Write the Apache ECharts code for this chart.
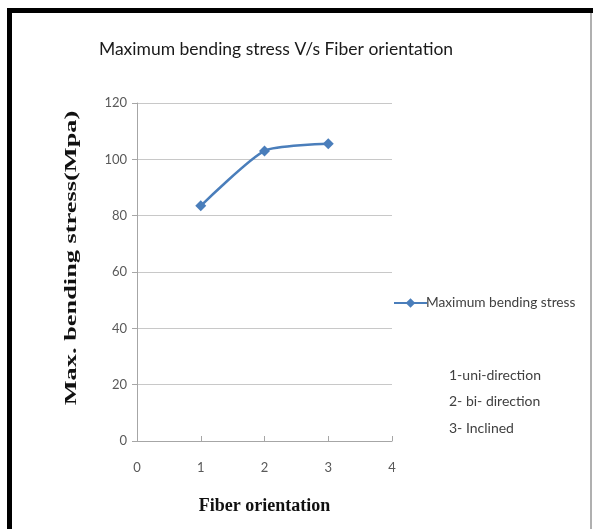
<!DOCTYPE html>
<html>
<head>
<meta charset="utf-8">
<script src="https://cdn.jsdelivr.net/npm/echarts@6/dist/echarts.min.js"></script>
<style>
  html, body { margin: 0; padding: 0; background: #fff; }
  #chart { width: 593px; height: 529px; }
</style>
</head>
<body>
<div id="chart"></div>
<script>
// 数据
var orientations = [1, 2, 3];
var maxStress = [83.5, 103, 105.5];
var xTicks = [0, 1, 2, 3, 4];
var legendName = 'Maximum bending stress';
var noteLines = ['1-uni-direction', '2- bi- direction', '3- Inclined'];

var lineColor = '#4a7ebb';
var tickColor = '#595959';

var myChart = echarts.init(document.getElementById('chart'));

var option = {
    backgroundColor: '#fff',
    animation: false,
    title: {
        text: 'Maximum bending stress V/s Fiber orientation',
        left: 271,
        top: 35,
        textAlign: 'center',
        textStyle: {
            fontFamily: 'Lato',
            fontSize: 17.5,
            fontWeight: 'normal',
            color: '#1a1a1a'
        }
    },
    legend: {
        data: [legendName],
        left: 388,
        top: 291,
        itemWidth: 33,
        itemHeight: 12,
        itemGap: 2,
        textStyle: {
            fontFamily: 'Lato',
            fontSize: 13.7,
            color: '#404040',
            padding: [0, 0, 0, -6]
        }
    },
    grid: {
        left: 137,
        right: 201,
        top: 103,
        bottom: 88
    },
    xAxis: {
        type: 'value',
        min: xTicks[0],
        max: xTicks[xTicks.length - 1],
        interval: 1,
        name: 'Fiber orientation',
        nameLocation: 'middle',
        nameGap: 56,
        nameTextStyle: {
            fontFamily: 'Liberation Serif',
            fontWeight: 'bold',
            fontSize: 18,
            color: '#111'
        },
        axisLine: { lineStyle: { color: '#a6a6a6', width: 1 } },
        axisTick: { show: true, inside: true, length: 5, lineStyle: { color: '#a6a6a6' } },
        axisLabel: {
            margin: 20,
            fontFamily: 'Lato',
            fontSize: 13,
            color: tickColor
        },
        splitLine: { show: false }
    },
    yAxis: {
        type: 'value',
        min: 0,
        max: 120,
        interval: 20,
        axisLine: { show: true, lineStyle: { color: '#a6a6a6', width: 1 } },
        axisTick: { show: true, length: 5, lineStyle: { color: '#a6a6a6' } },
        axisLabel: {
            margin: 10,
            fontFamily: 'Lato',
            fontSize: 13,
            color: tickColor
        },
        splitLine: { lineStyle: { color: '#c8c8c8', width: 1 } }
    },
    graphic: [
        // 外框（黑色粗线 + 右侧灰线）
        { type: 'rect', shape: { x: 7, y: 8, width: 590, height: 5 }, style: { fill: '#000' }, z: 100 },
        { type: 'rect', shape: { x: 7, y: 8, width: 5, height: 530 }, style: { fill: '#000' }, z: 100 },
        { type: 'rect', shape: { x: 590, y: 13, width: 2, height: 520 }, style: { fill: '#b0b0b0' }, z: 100 },
        // y轴名称（原图被纵向拉伸）
        {
            type: 'text',
            x: 72,
            y: 258,
            rotation: Math.PI / 2,
            scaleX: 1.55,
            style: {
                text: 'Max. bending stress(Mpa)',
                fontFamily: 'Liberation Serif',
                fontWeight: 'bold',
                fontSize: 17,
                fill: '#111',
                align: 'center',
                verticalAlign: 'middle'
            }
        },
        {
            type: 'text',
            left: 449,
            top: 362,
            style: {
                text: noteLines.join('\n'),
                fontFamily: 'Lato',
                fontSize: 14,
                lineHeight: 26.5,
                fill: '#404040'
            }
        }
    ],
    series: [{
        name: legendName,
        type: 'line',
        data: orientations.map(function (x, i) { return [x, maxStress[i]]; }),
        smooth: 0.2,
        symbol: 'diamond',
        symbolSize: 11,
        lineStyle: { color: lineColor, width: 2.5 },
        itemStyle: { color: lineColor }
    }]
};

myChart.setOption(option);
</script>
</body>
</html>
